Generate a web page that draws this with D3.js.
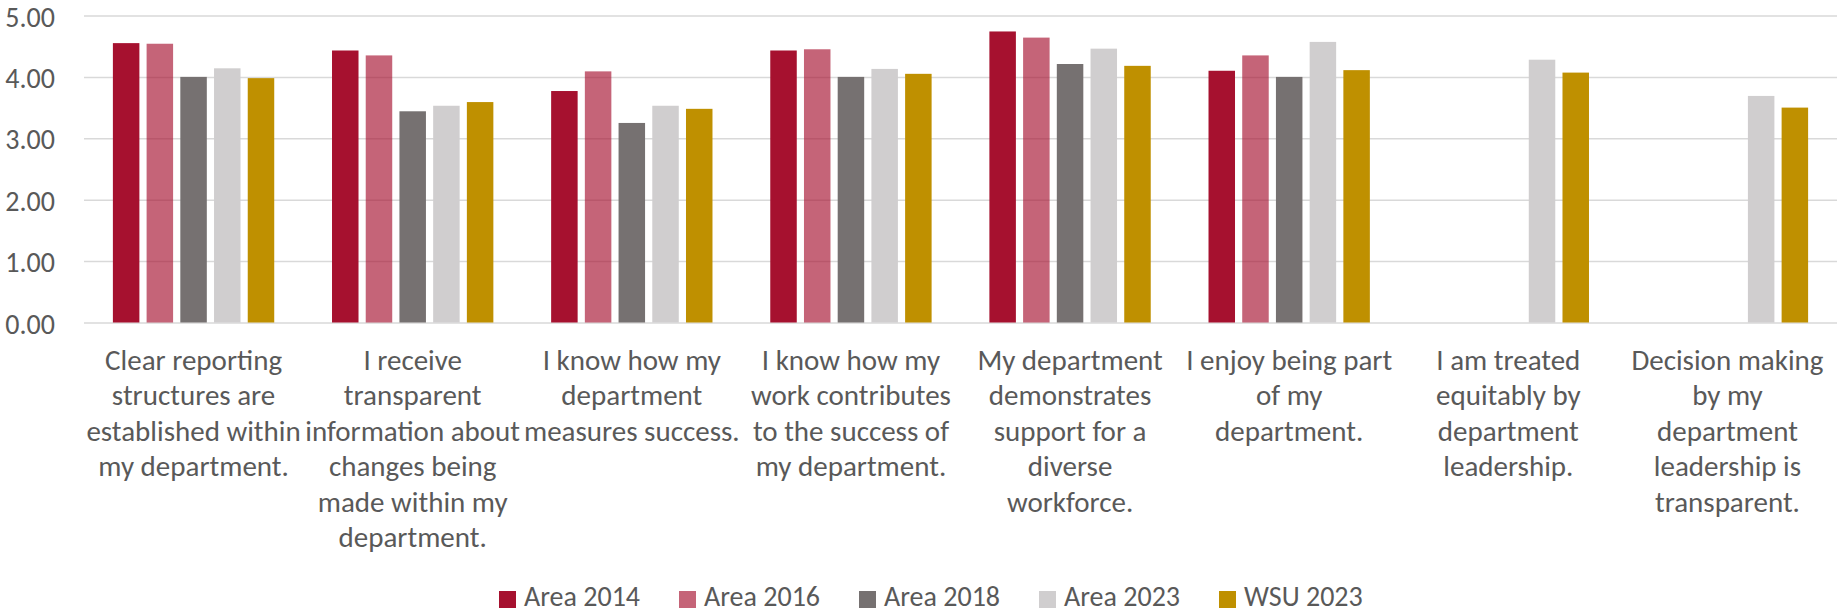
<!DOCTYPE html>
<html>
<head>
<meta charset="utf-8">
<script src="https://cdn.jsdelivr.net/npm/d3@7"></script>
<style>
    body { margin: 0; background: #fff; }
    text { font-family: Calibri, Carlito, Lato, sans-serif; fill: #595959; }
</style>
</head>
<body>
<div id="chart"></div>
<script>
// category labels, already broken into lines as in the picture
const categories = [
    ['Clear reporting', 'structures are', 'established within', 'my department.'],
    ['I receive', 'transparent', 'information about', 'changes being', 'made within my', 'department.'],
    ['I know how my', 'department', 'measures success.'],
    ['I know how my', 'work contributes', 'to the success of', 'my department.'],
    ['My department', 'demonstrates', 'support for a', 'diverse', 'workforce.'],
    ['I enjoy being part', 'of my', 'department.'],
    ['I am treated', 'equitably by', 'department', 'leadership.'],
    ['Decision making', 'by my', 'department', 'leadership is', 'transparent.']
];

const seriesNames = ['Area 2014', 'Area 2016', 'Area 2018', 'Area 2023', 'WSU 2023'];

const area2014 = [4.55, 4.43, 3.77, 4.43, 4.74, 4.10, null, null];
const area2016 = [4.54, 4.35, 4.09, 4.45, 4.64, 4.35, null, null];
const area2018 = [4.00, 3.44, 3.25, 4.00, 4.21, 4.00, null, null];
const area2023 = [4.14, 3.53, 3.53, 4.13, 4.46, 4.57, 4.28, 3.69];
const wsu2023 = [3.98, 3.59, 3.48, 4.05, 4.18, 4.11, 4.07, 3.50];

const yTicks = [0, 1, 2, 3, 4, 5];

const seriesValues = [area2014, area2016, area2018, area2023, wsu2023];
const colors = ['#a6112f', 'rgba(166,17,47,0.65)', '#767171', '#d0cecf', '#bf9000'];

const width = 1837,
    height = 613,
    margin = {top: 15.5, right: 0, bottom: 290, left: 84};

const svg = d3.select('#chart').append('svg')
    .attr('width', width)
    .attr('height', height);

const xScale = d3.scaleBand()
    .domain(d3.range(categories.length))
    .range([margin.left, width - margin.right])
    .padding(0);

const xInner = d3.scaleBand()
    .domain(d3.range(seriesNames.length))
    .range([0, xScale.bandwidth()])
    .paddingInner(0.214)
    .paddingOuter(0.857);

const yScale = d3.scaleLinear()
    .domain([0, 5])
    .range([height - margin.bottom - 0.5, margin.top]);

// gridlines + tick labels
const yAxis = d3.axisLeft(yScale)
    .tickValues(yTicks)
    .tickFormat(d3.format('.2f'))
    .tickSize(-(width - margin.left - margin.right))
    .tickPadding(29);

const gY = svg.append('g')
    .attr('transform', 'translate(' + margin.left + ',0)')
    .call(yAxis);

gY.select('.domain').remove();
gY.selectAll('.tick line')
    .attr('stroke', '#d9d9d9')
    .attr('stroke-width', 1.5);
gY.selectAll('.tick text')
    .style('font-size', '28px')
    .attr('dy', '0.38em')
    .attr('fill', '#595959');

// bars
seriesValues.forEach((values, s) => {
    svg.append('g')
        .selectAll('rect')
        .data(values.map((v, i) => ({i: i, v: v})).filter(d => d.v !== null))
        .enter()
        .append('rect')
        .attr('x', d => xScale(d.i) + xInner(s))
        .attr('width', xInner.bandwidth())
        .attr('y', d => yScale(d.v))
        .attr('height', d => yScale(0) - yScale(d.v))
        .attr('fill', colors[s]);
});

// category labels
const labelGroups = svg.append('g')
    .selectAll('text')
    .data(categories)
    .enter()
    .append('text')
    .attr('text-anchor', 'middle')
    .style('font-size', '29px')
    .attr('transform', (d, i) => 'translate(' + (xScale(i) + xScale.bandwidth() / 2) + ',370)');

labelGroups.selectAll('tspan')
    .data(d => d)
    .enter()
    .append('tspan')
    .attr('x', 0)
    .attr('y', (d, j) => j * 35.4)
    .text(d => d);

// legend
const legend = svg.append('g')
    .selectAll('g')
    .data(seriesNames)
    .enter()
    .append('g')
    .attr('transform', (d, i) => 'translate(' + (499 + i * 180) + ',591)');

legend.append('rect')
    .attr('width', 17)
    .attr('height', 17)
    .attr('fill', (d, i) => colors[i]);

legend.append('text')
    .attr('x', 25)
    .attr('y', 15)
    .style('font-size', '28px')
    .text(d => d);
</script>
</body>
</html>
